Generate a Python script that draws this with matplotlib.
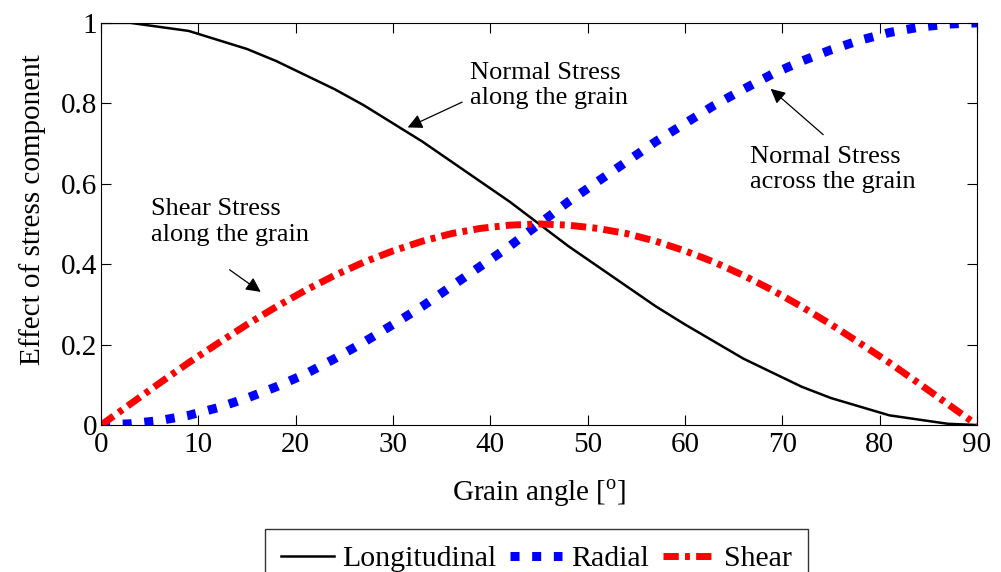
import matplotlib
matplotlib.use("Agg")
import matplotlib.pyplot as plt

plt.rcParams["font.family"] = ["Liberation Serif", "DejaVu Serif"]
plt.rcParams["mathtext.fontset"] = "custom"
plt.rcParams["mathtext.rm"] = "Liberation Serif"

# grain angle samples [deg]
angle_long = [0, 3, 9, 15, 18, 21, 24, 27, 30, 33, 36, 39, 42, 45, 48, 51, 54, 57,
              60, 66, 72, 75, 81, 87, 90]
longitudinal = [1.0, 1.0, 0.98, 0.935, 0.905, 0.87, 0.835, 0.795, 0.75, 0.705,
                0.655, 0.605, 0.555, 0.5, 0.445, 0.395, 0.345, 0.295,
                0.25, 0.165, 0.095, 0.067, 0.024, 0.003, 0.0]

angle = [0, 3, 6, 9, 12, 15, 18, 21, 24, 27, 30, 33, 36, 39, 42, 45,
         48, 51, 54, 57, 60, 63, 66, 69, 72, 75, 78, 81, 84, 87, 90]
radial = [0.0, 0.003, 0.011, 0.024, 0.043, 0.067, 0.095, 0.127, 0.165, 0.206,
          0.25, 0.295, 0.345, 0.395, 0.445, 0.5, 0.555, 0.605, 0.655, 0.705,
          0.75, 0.795, 0.835, 0.873, 0.905, 0.933, 0.957, 0.976, 0.989, 0.997, 1.0]
shear = [0.0, 0.052, 0.104, 0.155, 0.203, 0.25, 0.294, 0.335, 0.372, 0.405,
         0.433, 0.457, 0.476, 0.489, 0.497, 0.5, 0.497, 0.489, 0.476, 0.457,
         0.433, 0.405, 0.372, 0.335, 0.294, 0.25, 0.203, 0.155, 0.104, 0.052, 0.0]

fig = plt.figure(figsize=(10.01, 5.72), dpi=100)
ax = fig.add_axes([0.101, 0.257, 0.875, 0.703])

l1, = ax.plot(angle_long, longitudinal, color="black", lw=1.8, label="Longitudinal")
l2, = ax.plot(angle, radial, color="blue", lw=6.5, label="Radial")
l2.set_dashes([1, 1.4])
l2.set_dash_capstyle("butt")
l3, = ax.plot(angle, shear, color="red", lw=5, label="Shear")
l3.set_dashes([2.2, 0.9, 0.7, 0.9])
l3.set_dash_capstyle("butt")

ax.set_xlim(0, 90)
ax.set_ylim(0, 1)
ax.set_xticks(range(0, 91, 10))
ax.set_yticks([0, 0.2, 0.4, 0.6, 0.8, 1])
ax.set_yticklabels(["0", "0.2", "0.4", "0.6", "0.8", "1"])
ax.tick_params(direction="in", top=True, right=True, length=7, width=0.8,
               labelsize=21)
ax.tick_params(axis="x", pad=5)
ax.tick_params(axis="y", pad=3)
ax.set_xlabel(r"Grain angle [$^{\rm o}$]", fontsize=21, labelpad=14)
ax.set_ylabel("Effect of stress component", fontsize=21)
ax.yaxis.set_label_coords(-0.063, 0.535)

# annotations
arrow = dict(arrowstyle="-|>", color="black", lw=0.9, mutation_scale=22,
             shrinkA=0, shrinkB=0)
ax.text(37.9, 0.845, "Normal Stress\nalong the grain", fontsize=19,
        ha="left", va="center", linespacing=1.2)
ax.annotate("", xy=(31.5, 0.74), xytext=(37.1, 0.803), arrowprops=arrow)

ax.text(66.7, 0.635, "Normal Stress\nacross the grain", fontsize=19,
        ha="left", va="center", linespacing=1.2)
ax.annotate("", xy=(68.8, 0.836), xytext=(74.2, 0.722), arrowprops=arrow)

ax.text(5.1, 0.505, "Shear Stress\nalong the grain", fontsize=19,
        ha="left", va="center", linespacing=1.2)
ax.annotate("", xy=(16.4, 0.331), xytext=(13.2, 0.386), arrowprops=arrow)

leg = fig.legend(handles=[l1, l2, l3], loc="upper center",
                 bbox_to_anchor=(0.536, 0.075), ncol=3, fontsize=21.5,
                 frameon=True, fancybox=False, edgecolor="black",
                 handlelength=1.75, handletextpad=0.3, columnspacing=0.45,
                 borderpad=0.55, borderaxespad=0)
leg.get_frame().set_linewidth(1.0)

fig.savefig("out.png", dpi=100)
